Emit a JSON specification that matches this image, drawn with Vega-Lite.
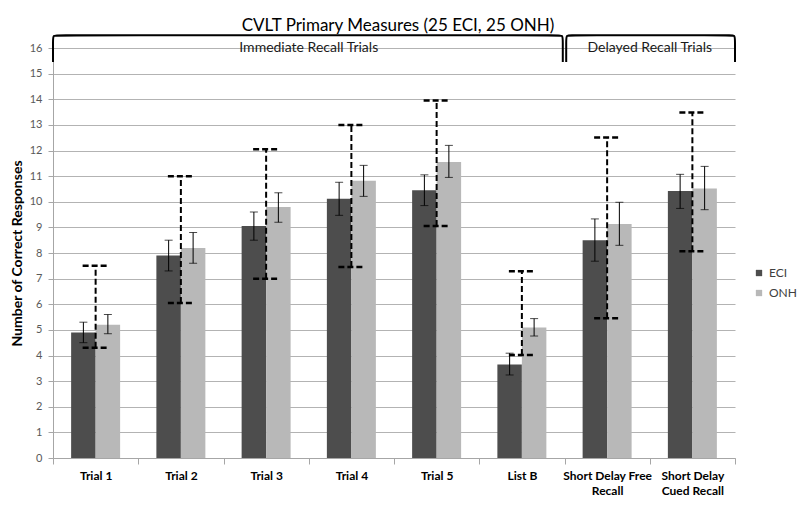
{
  "$schema": "https://vega.github.io/schema/vega-lite/v6.json",
  "width": 682,
  "height": 410,
  "autosize": {"type": "none"},
  "padding": {"left": 53, "top": 48, "right": 65, "bottom": 74},
  "background": "white",
  "config": {
    "font": "Lato",
    "view": {"stroke": null}
  },
  "title": {
    "text": "CVLT Primary Measures (25 ECI, 25 ONH)",
    "frame": "group",
    "anchor": "middle",
    "offset": -4,
    "fontSize": 17,
    "font": "Lato",
    "fontWeight": "normal",
    "color": "#000000",
    "dx": 4
  },
  "datasets": {
    "bars": [
      {"cat": "Trial 1", "group": "ECI", "value": 4.9, "lo": 4.5, "hi": 5.3},
      {"cat": "Trial 1", "group": "ONH", "value": 5.2, "lo": 4.85, "hi": 5.6},
      {"cat": "Trial 2", "group": "ECI", "value": 7.9, "lo": 7.3, "hi": 8.5},
      {"cat": "Trial 2", "group": "ONH", "value": 8.2, "lo": 7.6, "hi": 8.8},
      {"cat": "Trial 3", "group": "ECI", "value": 9.05, "lo": 8.5, "hi": 9.6},
      {"cat": "Trial 3", "group": "ONH", "value": 9.8, "lo": 9.2, "hi": 10.35},
      {"cat": "Trial 4", "group": "ECI", "value": 10.12, "lo": 9.47, "hi": 10.76},
      {"cat": "Trial 4", "group": "ONH", "value": 10.82, "lo": 10.21, "hi": 11.42},
      {"cat": "Trial 5", "group": "ECI", "value": 10.45, "lo": 9.85, "hi": 11.05},
      {"cat": "Trial 5", "group": "ONH", "value": 11.55, "lo": 10.95, "hi": 12.2},
      {"cat": "List B", "group": "ECI", "value": 3.65, "lo": 3.24, "hi": 4.09},
      {"cat": "List B", "group": "ONH", "value": 5.09, "lo": 4.76, "hi": 5.44},
      {"cat": "Short Delay Free Recall", "group": "ECI", "value": 8.5, "lo": 7.68, "hi": 9.33},
      {"cat": "Short Delay Free Recall", "group": "ONH", "value": 9.13, "lo": 8.3, "hi": 9.98},
      {"cat": "Short Delay Cued Recall", "group": "ECI", "value": 10.42, "lo": 9.74, "hi": 11.07},
      {"cat": "Short Delay Cued Recall", "group": "ONH", "value": 10.52, "lo": 9.69, "hi": 11.38}
    ],
    "norms": [
      {"cat": "Trial 1", "idx": 0, "nlo": 4.3, "nhi": 7.5},
      {"cat": "Trial 2", "idx": 1, "nlo": 6.05, "nhi": 11.0},
      {"cat": "Trial 3", "idx": 2, "nlo": 7.0, "nhi": 12.05},
      {"cat": "Trial 4", "idx": 3, "nlo": 7.45, "nhi": 13.0},
      {"cat": "Trial 5", "idx": 4, "nlo": 9.05, "nhi": 13.95},
      {"cat": "List B", "idx": 5, "nlo": 4.02, "nhi": 7.29},
      {"cat": "Short Delay Free Recall", "idx": 6, "nlo": 5.45, "nhi": 12.51},
      {"cat": "Short Delay Cued Recall", "idx": 7, "nlo": 8.07, "nhi": 13.48}
    ],
    "braces": [
      {"brace": "Immediate", "order": 1, "bx": -0.5, "by": 15.45},
      {"brace": "Immediate", "order": 2, "bx": -0.5, "by": 15.45},
      {"brace": "Immediate", "order": 3, "bx": -0.5, "by": 16.3},
      {"brace": "Immediate", "order": 4, "bx": -0.5, "by": 16.5},
      {"brace": "Immediate", "order": 5, "bx": -0.44, "by": 16.5},
      {"brace": "Immediate", "order": 6, "bx": 5.42, "by": 16.5},
      {"brace": "Immediate", "order": 7, "bx": 5.48, "by": 16.5},
      {"brace": "Immediate", "order": 8, "bx": 5.48, "by": 16.3},
      {"brace": "Immediate", "order": 9, "bx": 5.48, "by": 15.45},
      {"brace": "Immediate", "order": 10, "bx": 5.48, "by": 15.45},
      {"brace": "Delayed", "order": 1, "bx": 5.52, "by": 15.45},
      {"brace": "Delayed", "order": 2, "bx": 5.52, "by": 15.45},
      {"brace": "Delayed", "order": 3, "bx": 5.52, "by": 16.3},
      {"brace": "Delayed", "order": 4, "bx": 5.52, "by": 16.5},
      {"brace": "Delayed", "order": 5, "bx": 5.58, "by": 16.5},
      {"brace": "Delayed", "order": 6, "bx": 7.44, "by": 16.5},
      {"brace": "Delayed", "order": 7, "bx": 7.5, "by": 16.5},
      {"brace": "Delayed", "order": 8, "bx": 7.5, "by": 16.3},
      {"brace": "Delayed", "order": 9, "bx": 7.5, "by": 15.45},
      {"brace": "Delayed", "order": 10, "bx": 7.5, "by": 15.45}
    ],
    "braceLabels": [
      {"label": "Immediate Recall Trials", "lx": 2.5, "ly": 16.0},
      {"label": "Delayed Recall Trials", "lx": 6.5, "ly": 16.0}
    ]
  },
  "resolve": {"scale": {"x": "independent", "xOffset": "independent"}, "axis": {"x": "independent"}},
  "layer": [
    {
      "data": {"name": "bars"},
      "mark": {"type": "bar"},
      "encoding": {
        "x": {
          "field": "cat", "type": "nominal",
          "sort": ["Trial 1", "Trial 2", "Trial 3", "Trial 4", "Trial 5", "List B", "Short Delay Free Recall", "Short Delay Cued Recall"],
          "scale": {"paddingInner": 0, "paddingOuter": 0},
          "axis": {
            "title": null,
            "tickBand": "extent",
            "labelAngle": 0,
            "labelFont": "Lato",
            "labelFontWeight": "bold",
            "labelFontSize": 12,
            "labelColor": "#000000",
            "labelPadding": 6,
            "labelLineHeight": 15,
            "domainColor": "#a6a6a6",
            "tickColor": "#a6a6a6",
            "tickSize": 6,
            "labelExpr": "datum.value == 'Short Delay Free Recall' ? ['Short Delay Free', 'Recall'] : datum.value == 'Short Delay Cued Recall' ? ['Short Delay', 'Cued Recall'] : datum.value"
          }
        },
        "xOffset": {
          "field": "group", "type": "nominal",
          "scale": {"paddingInner": 0, "paddingOuter": 0.74}
        },
        "y": {
          "field": "value", "type": "quantitative",
          "scale": {"domain": [0, 16], "nice": false},
          "axis": {
            "title": "Number of Correct Responses",
            "titleFont": "Lato",
            "titleFontSize": 14,
            "titleFontWeight": "bold",
            "titleColor": "#000000",
            "titlePadding": 5,
            "values": [0, 1, 2, 3, 4, 5, 6, 7, 8, 9, 10, 11, 12, 13, 14, 15, 16],
            "tickCount": 20,
            "labelOverlap": false,
            "labelFont": "Lato",
            "labelFontSize": 11,
            "labelColor": "#595959",
            "labelPadding": 6,
            "tickSize": 5,
            "tickColor": "#a6a6a6",
            "domainColor": "#a6a6a6",
            "gridColor": "#b3b3b3",
            "grid": true
          }
        },
        "color": {
          "field": "group", "type": "nominal",
          "scale": {"domain": ["ECI", "ONH"], "range": ["#4d4d4d", "#b8b8b8"]},
          "legend": {
            "title": null,
            "orient": "none",
            "legendX": 700,
            "legendY": 219,
            "symbolType": "square",
            "symbolSize": 40,
            "symbolStrokeWidth": 0,
            "labelFont": "Lato",
            "labelFontSize": 12,
            "labelColor": "#404040",
            "rowPadding": 8
          }
        }
      }
    },
    {
      "data": {"name": "bars"},
      "mark": {"type": "rule", "color": "#000000", "strokeWidth": 1},
      "encoding": {
        "x": {"field": "cat", "type": "nominal", "sort": ["Trial 1", "Trial 2", "Trial 3", "Trial 4", "Trial 5", "List B", "Short Delay Free Recall", "Short Delay Cued Recall"], "scale": {"paddingInner": 0, "paddingOuter": 0}, "axis": null},
        "xOffset": {"field": "group", "type": "nominal", "scale": {"paddingInner": 0, "paddingOuter": 0.74}},
        "y": {"field": "lo", "type": "quantitative"},
        "y2": {"field": "hi"}
      }
    },
    {
      "data": {"name": "bars"},
      "mark": {"type": "tick", "orient": "horizontal", "color": "#000000", "thickness": 1, "size": 8},
      "encoding": {
        "x": {"field": "cat", "type": "nominal", "sort": ["Trial 1", "Trial 2", "Trial 3", "Trial 4", "Trial 5", "List B", "Short Delay Free Recall", "Short Delay Cued Recall"], "scale": {"paddingInner": 0, "paddingOuter": 0}, "axis": null},
        "xOffset": {"field": "group", "type": "nominal", "scale": {"paddingInner": 0, "paddingOuter": 0.74}},
        "y": {"field": "lo", "type": "quantitative"}
      }
    },
    {
      "data": {"name": "bars"},
      "mark": {"type": "tick", "orient": "horizontal", "color": "#000000", "thickness": 1, "size": 8},
      "encoding": {
        "x": {"field": "cat", "type": "nominal", "sort": ["Trial 1", "Trial 2", "Trial 3", "Trial 4", "Trial 5", "List B", "Short Delay Free Recall", "Short Delay Cued Recall"], "scale": {"paddingInner": 0, "paddingOuter": 0}, "axis": null},
        "xOffset": {"field": "group", "type": "nominal", "scale": {"paddingInner": 0, "paddingOuter": 0.74}},
        "y": {"field": "hi", "type": "quantitative"}
      }
    },
    {
      "data": {"name": "norms"},
      "mark": {"type": "rule", "color": "#000000", "strokeWidth": 2, "strokeDash": [6, 3]},
      "encoding": {
        "x": {"field": "idx", "type": "quantitative", "scale": {"domain": [-0.5, 7.5], "nice": false, "zero": false}, "axis": null},
        "y": {"field": "nlo", "type": "quantitative"},
        "y2": {"field": "nhi"}
      }
    },
    {
      "data": {"name": "norms"},
      "mark": {"type": "rule", "color": "#000000", "strokeWidth": 2.5, "strokeDash": [6, 3], "xOffset": -13, "x2Offset": 12},
      "encoding": {
        "x": {"field": "idx", "type": "quantitative", "scale": {"domain": [-0.5, 7.5], "nice": false, "zero": false}, "axis": null},
        "x2": {"field": "idx"},
        "y": {"field": "nhi", "type": "quantitative"}
      }
    },
    {
      "data": {"name": "norms"},
      "mark": {"type": "rule", "color": "#000000", "strokeWidth": 2.5, "strokeDash": [6, 3], "xOffset": -13, "x2Offset": 12},
      "encoding": {
        "x": {"field": "idx", "type": "quantitative", "scale": {"domain": [-0.5, 7.5], "nice": false, "zero": false}, "axis": null},
        "x2": {"field": "idx"},
        "y": {"field": "nlo", "type": "quantitative"}
      }
    },
    {
      "data": {"name": "braces"},
      "mark": {"type": "line", "interpolate": "basis", "color": "#000000", "strokeWidth": 2},
      "encoding": {
        "x": {"field": "bx", "type": "quantitative", "scale": {"domain": [-0.5, 7.5], "nice": false, "zero": false}, "axis": null},
        "y": {"field": "by", "type": "quantitative"},
        "detail": {"field": "brace"},
        "order": {"field": "order"}
      }
    },
    {
      "data": {"name": "braceLabels"},
      "mark": {"type": "text", "font": "Lato", "fontSize": 14, "color": "#1a1a1a", "baseline": "middle", "align": "center"},
      "encoding": {
        "x": {"field": "lx", "type": "quantitative", "scale": {"domain": [-0.5, 7.5], "nice": false, "zero": false}, "axis": null},
        "y": {"field": "ly", "type": "quantitative"},
        "text": {"field": "label"}
      }
    }
  ]
}
